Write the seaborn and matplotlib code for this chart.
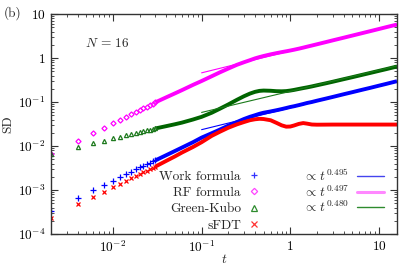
import math
import matplotlib
matplotlib.use('Agg')
import matplotlib.pyplot as plt
import seaborn as sns
from matplotlib.lines import Line2D
from matplotlib.ticker import LogLocator, FuncFormatter, NullFormatter

# discrete markers at short times (dt = 0.002)
t_early = [0.002, 0.004, 0.006, 0.008, 0.010, 0.012, 0.014, 0.016,
           0.018, 0.020, 0.022, 0.024, 0.026, 0.028, 0.030]
work_early = [3.3e-4, 6.6e-4, 9.8e-4, 1.30e-3, 1.62e-3, 1.95e-3, 2.30e-3, 2.63e-3,
              2.95e-3, 3.25e-3, 3.55e-3, 3.85e-3, 4.15e-3, 4.45e-3, 4.75e-3]
rf_early = [0.0066, 0.0132, 0.020, 0.026, 0.0327, 0.039, 0.046, 0.053,
            0.060, 0.066, 0.073, 0.079, 0.085, 0.092, 0.098]
gk_early = [0.0066, 0.0093, 0.0114, 0.0132, 0.0150, 0.0163, 0.0178, 0.0187,
            0.0198, 0.0207, 0.0217, 0.0226, 0.0234, 0.0242, 0.0250]
sfdt_early = [2.3e-4, 4.7e-4, 7.1e-4, 9.2e-4, 1.14e-3, 1.39e-3, 1.62e-3, 1.84e-3,
              2.07e-3, 2.29e-3, 2.52e-3, 2.74e-3, 2.96e-3, 3.18e-3, 3.40e-3]

# dense part (markers merge into a thick band)
t_late = [0.03, 0.04, 0.05, 0.06, 0.08, 0.1, 0.13, 0.16, 0.2, 0.25, 0.3, 0.35,
          0.4, 0.45, 0.5, 0.6, 0.7, 0.8, 0.9, 1.0, 1.1, 1.25, 1.4, 1.55, 1.75,
          2.0, 2.5, 3, 4, 5, 6.5, 8, 10, 12, 14, 16]
work_late = [0.0047, 0.0062, 0.0077, 0.0092, 0.0122, 0.0155, 0.0195, 0.0235, 0.029,
             0.035, 0.041, 0.046, 0.050, 0.054, 0.057, 0.061, 0.065, 0.069, 0.073,
             0.077, 0.080, 0.085, 0.090, 0.095, 0.100, 0.107, 0.119, 0.130, 0.150,
             0.167, 0.190, 0.210, 0.235, 0.257, 0.278, 0.297]
rf_late = [0.098, 0.128, 0.157, 0.186, 0.245, 0.30, 0.385, 0.47, 0.575, 0.70,
           0.80, 0.89, 0.98, 1.05, 1.11, 1.21, 1.29, 1.36, 1.42, 1.48, 1.54,
           1.63, 1.72, 1.81, 1.92, 2.05, 2.29, 2.51, 2.89, 3.23, 3.68, 4.08,
           4.56, 5.0, 5.4, 5.75]
gk_late = [0.0250, 0.0283, 0.0312, 0.034, 0.040, 0.046, 0.057, 0.070, 0.088,
           0.112, 0.135, 0.155, 0.170, 0.179, 0.182, 0.180, 0.176, 0.175, 0.177,
           0.182, 0.188, 0.198, 0.207, 0.215, 0.226, 0.240, 0.265, 0.288, 0.330,
           0.366, 0.415, 0.458, 0.510, 0.556, 0.600, 0.640]
sfdt_late = [0.0034, 0.0046, 0.0058, 0.0071, 0.0095, 0.0122, 0.0170, 0.0210,
             0.026, 0.031, 0.035, 0.0385, 0.0405, 0.0415, 0.0410, 0.0385, 0.0335,
             0.0295, 0.0275, 0.0277, 0.0292, 0.0318, 0.0332, 0.0322, 0.0308,
             0.0305, 0.0306, 0.0307, 0.0307, 0.0307, 0.0307, 0.0307, 0.0307,
             0.0307, 0.0307, 0.0307]

# power-law fits  SD = c * t^p  on t in [0.1, 16]
t_fit = [0.1, 16]
fit_exp = [0.495, 0.497, 0.480]
fit_pref = [0.0735, 1.445, 0.175]

c_blue = '#0000ff'
c_pink = '#ff00ff'
c_green = '#006400'
c_red = '#ff0000'
fs = 9.6

sns.set_style('ticks')
plt.rcParams.update({
    'font.family': 'serif',
    'font.serif': ['cmr10'],
    'mathtext.fontset': 'cm',
    'axes.formatter.use_mathtext': True,
    'font.size': fs,
    'axes.linewidth': 1.0,
    'axes.edgecolor': '#333333',
})

fig = plt.figure(figsize=(4.16, 2.67), dpi=100)
ax = fig.add_axes([51 / 416, 1 - 234 / 267, 346 / 416, 220 / 267])
ax.set_xscale('log')
ax.set_yscale('log')

# bands
for y, c in [(rf_late, c_pink), (gk_late, c_green), (work_late, c_blue), (sfdt_late, c_red)]:
    sns.lineplot(x=t_late, y=y, ax=ax, color=c, lw=2.8, estimator=None, sort=False,
                 solid_capstyle='butt')

# discrete markers
ax.plot(t_early, rf_early, ls='none', marker='D', ms=2.6, mfc='none', mec=c_pink, mew=0.9)
ax.plot(t_early, gk_early, ls='none', marker='^', ms=3.0, mfc='none', mec='#1f7a1f', mew=0.9)
ax.plot(t_early, work_early, ls='none', marker='+', ms=4.0, mec=c_blue, mew=0.9)
ax.plot(t_early, sfdt_early, ls='none', marker='x', ms=3.2, mec=c_red, mew=0.9)

# fits
fit_cols = [c_blue, c_pink, '#1a7a1a']
for p, c0, col in zip(fit_exp, fit_pref, fit_cols):
    sns.lineplot(x=t_fit, y=[c0 * tt ** p for tt in t_fit], ax=ax, color=col, lw=0.8)

ax.set_xlim(0.002, 16)
ax.set_ylim(1e-4, 10)


def fmt(v, pos):
    e = int(round(math.log10(v)))
    if e == 0:
        return r'$1$'
    if e == 1:
        return r'$10$'
    return r'$10^{%d}$' % e


for axis in (ax.xaxis, ax.yaxis):
    axis.set_major_locator(LogLocator(base=10, numticks=20))
    axis.set_minor_locator(LogLocator(base=10, subs=range(2, 10), numticks=20))
    axis.set_major_formatter(FuncFormatter(fmt))
    axis.set_minor_formatter(NullFormatter())
ax.tick_params(which='both', direction='in', top=True, right=True, colors='#333333',
               labelcolor='black')
ax.tick_params(which='major', length=5, width=0.8, labelsize=fs, pad=4)
ax.tick_params(which='minor', length=2.5, width=0.6)

ax.set_xlabel(r'$t$', fontsize=fs)
ax.set_ylabel('SD', fontsize=fs)
ax.xaxis.set_label_coords(0.5, -0.085)
ax.yaxis.set_label_coords(-0.105, 0.5)

ax.text(0.098, 0.868, r'$N$ = 16', transform=ax.transAxes, fontsize=fs,
        va='center', ha='left')
fig.text(0.008, 0.952, '(b)', fontsize=fs, va='center', ha='left')

# legends
h1 = [Line2D([], [], ls='none', marker='+', ms=5, mec='#3333ff', mew=0.9),
      Line2D([], [], ls='none', marker='D', ms=3.2, mfc='none', mec='#ff44ff', mew=0.9),
      Line2D([], [], ls='none', marker='^', ms=3.8, mfc='none', mec='#2e8b2e', mew=0.9),
      Line2D([], [], ls='none', marker='x', ms=4.0, mec='#ff3333', mew=0.9)]
l1 = ax.legend(h1, ['Work formula', 'RF formula', 'Green-Kubo', 'sFDT'],
               loc='upper right', bbox_to_anchor=(0.603, 0.29), markerfirst=False,
               frameon=False, handlelength=0.9, handletextpad=0.5, labelspacing=0.3,
               borderpad=0, borderaxespad=0, fontsize=fs)
ax.add_artist(l1)
h2 = [Line2D([], [], color='#4444ee', lw=1.0),
      Line2D([], [], color='#ff88ff', lw=2.2),
      Line2D([], [], color='#2e8b2e', lw=1.0)]
ax.legend(h2, [r'$\propto\, t^{0.495}$', r'$\propto\, t^{0.497}$', r'$\propto\, t^{0.480}$'],
          loc='upper right', bbox_to_anchor=(0.962, 0.30), markerfirst=False,
          frameon=False, handlelength=2.0, handletextpad=0.6, labelspacing=0.0,
          borderpad=0, borderaxespad=0, fontsize=fs)

fig.savefig('out.png', dpi=100)
